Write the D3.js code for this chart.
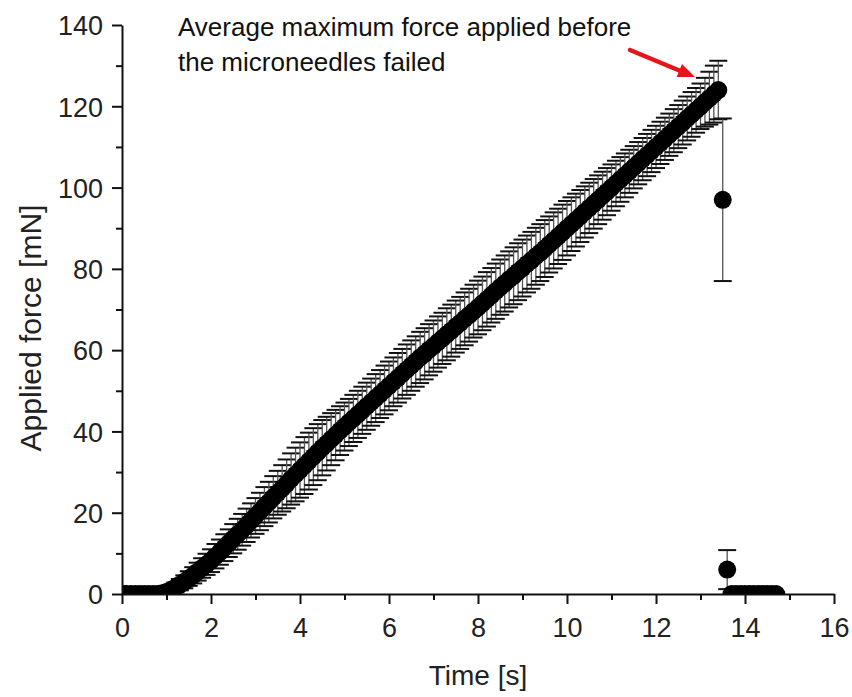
<!DOCTYPE html>
<html><head><meta charset="utf-8">
<script src="https://cdn.jsdelivr.net/npm/d3@7"></script>
<style>body{margin:0;background:#fff}</style></head>
<body>
<svg id="c" width="852" height="697"></svg>
<script>
// ---- data ----
const times = [0.0,0.1,0.2,0.3,0.4,0.5,0.6,0.7,0.8,0.9,
 1.0,1.1,1.2,1.3,1.4,1.5,1.6,1.7,1.8,1.9,
 2.0,2.1,2.2,2.3,2.4,2.5,2.6,2.7,2.8,2.9,
 3.0,3.1,3.2,3.3,3.4,3.5,3.6,3.7,3.8,3.9,
 4.0,4.1,4.2,4.3,4.4,4.5,4.6,4.7,4.8,4.9,
 5.0,5.1,5.2,5.3,5.4,5.5,5.6,5.7,5.8,5.9,
 6.0,6.1,6.2,6.3,6.4,6.5,6.6,6.7,6.8,6.9,
 7.0,7.1,7.2,7.3,7.4,7.5,7.6,7.7,7.8,7.9,
 8.0,8.1,8.2,8.3,8.4,8.5,8.6,8.7,8.8,8.9,
 9.0,9.1,9.2,9.3,9.4,9.5,9.6,9.7,9.8,9.9,
 10.0,10.1,10.2,10.3,10.4,10.5,10.6,10.7,10.8,10.9,
 11.0,11.1,11.2,11.3,11.4,11.5,11.6,11.7,11.8,11.9,
 12.0,12.1,12.2,12.3,12.4,12.5,12.6,12.7,12.8,12.9,
 13.0,13.1,13.2,13.3,13.4,
 13.5,13.6,13.7,13.8,13.9,14.0,14.1,14.2,14.3,14.4,14.5,14.6,14.7];
const force = [0,0,0,0,0,0,0,0,0,0.2,
 0.5,1.0,1.6,2.3,3.0,3.8,4.6,5.5,6.4,7.3,
 8.2,9.3,10.3,11.4,12.5,13.6,14.7,15.8,16.9,18.1,
 19.2,20.3,21.5,22.6,23.8,24.9,26.0,27.1,28.3,29.4,
 30.5,31.6,32.7,33.8,34.9,36.0,37.0,38.1,39.1,40.2,
 41.2,42.2,43.2,44.2,45.2,46.2,47.2,48.2,49.2,50.2,
 51.2,52.2,53.2,54.2,55.2,56.2,57.2,58.2,59.1,60.1,
 61.0,62.0,62.9,63.9,64.8,65.8,66.7,67.7,68.6,69.6,
 70.5,71.5,72.5,73.5,74.5,75.5,76.4,77.4,78.3,79.3,
 80.2,81.2,82.1,83.1,84.0,85.0,86.0,87.0,88.0,89.0,
 90.0,91.0,92.0,93.0,94.0,95.0,96.0,97.0,98.0,99.0,
 100.0,101.0,102.0,103.0,104.0,105.0,106.0,107.0,108.0,109.0,
 110.0,111.0,112.0,113.0,114.0,115.0,116.0,117.0,118.0,119.0,
 120.0,121.0,122.0,123.0,124.0,
 97,6,0,0,0,0,0,0,0,0,0,0,0];
const sd = [0.4,0.4,0.4,0.4,0.4,0.4,0.4,0.4,0.4,0.5,
 0.8,1.0,1.2,1.4,1.6,1.8,2.0,2.2,2.4,2.6,
 2.8,3.0,3.1,3.3,3.4,3.6,3.8,3.9,4.1,4.2,
 4.4,4.6,4.8,5.0,5.2,5.4,5.7,6.0,6.3,6.6,
 6.8,7.0,7.0,7.0,6.9,6.8,6.6,6.4,6.2,6.0,
 5.9,5.8,5.8,5.8,5.8,5.8,5.8,5.9,5.9,6.0,
 6.0,6.0,6.1,6.1,6.2,6.2,6.2,6.3,6.3,6.3,
 6.3,6.3,6.3,6.4,6.4,6.4,6.4,6.5,6.5,6.5,
 6.6,6.6,6.7,6.7,6.8,6.8,6.9,6.9,7.0,7.0,
 7.0,7.0,7.0,7.0,7.0,7.0,6.9,6.9,6.8,6.8,
 6.7,6.6,6.5,6.4,6.3,6.2,6.1,6.0,5.9,5.8,
 5.7,5.6,5.5,5.4,5.3,5.2,5.2,5.2,5.2,5.2,
 5.2,5.2,5.2,5.2,5.3,5.3,5.4,5.4,5.5,5.5,
 5.6,6.0,6.5,7.0,7.2,
 20,4.8,0.4,0.4,0.4,0.4,0.4,0.4,0.4,0.4,0.4,0.4,0.4];
const xMajor = [0,2,4,6,8,10,12,14,16];
const xMinor = [1,3,5,7,9,11,13,15];
const yMajor = [0,20,40,60,80,100,120,140];
const yMinor = [10,30,50,70,90,110,130];
const xTitle = "Time [s]";
const yTitle = "Applied force [mN]";
const note = ["Average maximum force applied before", "the microneedles failed"];

// ---- drawing ----
const FONT = "'Liberation Sans', Arial, Helvetica, sans-serif";
const svg = d3.select("#c");
const x = d3.scaleLinear().domain([0,16]).range([122,834]);
const y = d3.scaleLinear().domain([0,140]).range([594,25]);

svg.append("defs").append("clipPath").attr("id","clip")
  .append("rect").attr("x",122).attr("y",20).attr("width",712).attr("height",574);

const pts = times.map((t,i)=>({t, v:force[i], s:sd[i]}));
const g = svg.append("g").attr("clip-path","url(#clip)");
const cap = 9;
const eb = g.append("g");
pts.forEach(p=>{
  const x0 = x(p.t), yt = y(p.v+p.s), yb = y(p.v-p.s);
  eb.append("line").attr("x1",x0).attr("x2",x0).attr("y1",yt).attr("y2",yb)
    .attr("stroke","#555").attr("stroke-width",1.3);
  eb.append("line").attr("x1",x0-cap).attr("x2",x0+cap).attr("y1",yt).attr("y2",yt)
    .attr("stroke","#111").attr("stroke-width",2);
  eb.append("line").attr("x1",x0-cap).attr("x2",x0+cap).attr("y1",yb).attr("y2",yb)
    .attr("stroke","#111").attr("stroke-width",2);
});
g.append("g").selectAll("circle").data(pts).join("circle")
  .attr("cx",d=>x(d.t)).attr("cy",d=>y(d.v)).attr("r",9).attr("fill","#000");

// axes
function styleAxis(sel){
  sel.select(".domain").attr("stroke","#111").attr("stroke-width",2);
  sel.selectAll(".tick line").attr("stroke","#111").attr("stroke-width",2);
  sel.selectAll("text").attr("fill","#222").style("font-family",FONT).style("font-size","27px");
}
const xMinAx = svg.append("g").attr("transform","translate(0,594)")
  .call(d3.axisBottom(x).tickValues(xMinor).tickSize(6).tickFormat(""));
xMinAx.select(".domain").remove();
xMinAx.selectAll(".tick line").attr("stroke","#111").attr("stroke-width",2);
const xAx = svg.append("g").attr("transform","translate(0,594)")
  .call(d3.axisBottom(x).tickValues(xMajor).tickSize(10).tickSizeOuter(0).tickFormat(d3.format("d")));
styleAxis(xAx);
xAx.selectAll("text").attr("dy",null).attr("y",43);

const yMinAx = svg.append("g").attr("transform","translate(122,0)")
  .call(d3.axisLeft(y).tickValues(yMinor).tickSize(6).tickFormat(""));
yMinAx.select(".domain").remove();
yMinAx.selectAll(".tick line").attr("stroke","#111").attr("stroke-width",2);
const yAx = svg.append("g").attr("transform","translate(122,0)")
  .call(d3.axisLeft(y).tickValues(yMajor).tickSize(10).tickSizeOuter(0).tickFormat(d3.format("d")));
styleAxis(yAx);
yAx.selectAll("text").attr("x",-19).attr("dy","0.36em");

// titles
svg.append("text").attr("x",478).attr("y",685).attr("text-anchor","middle")
  .style("font-family",FONT).style("font-size","28px").attr("fill","#222").text(xTitle);
svg.append("text").attr("transform","translate(41,328) rotate(-90)").attr("text-anchor","middle")
  .style("font-family",FONT).style("font-size","30px").attr("fill","#222").text(yTitle);

// annotation
svg.append("text").attr("x",178).attr("y",36).style("font-family",FONT).style("font-size","26px")
  .attr("fill","#111").text(note[0]);
svg.append("text").attr("x",178).attr("y",71).style("font-family",FONT).style("font-size","26px")
  .attr("fill","#111").text(note[1]);

// red arrow
const ax0=630, ay0=50, ax1=695, ay1=77;
const ang = Math.atan2(ay1-ay0, ax1-ax0), hl=17, hw=7;
const bx = ax1 - hl*Math.cos(ang), by = ay1 - hl*Math.sin(ang);
svg.append("line").attr("x1",ax0).attr("y1",ay0).attr("x2",bx).attr("y2",by)
  .attr("stroke","#e8141c").attr("stroke-width",4.5).attr("stroke-linecap","round");
svg.append("path").attr("fill","#e8141c").attr("d",
  `M${ax1},${ay1} L${bx+hw*Math.sin(ang)},${by-hw*Math.cos(ang)} L${bx-hw*Math.sin(ang)},${by+hw*Math.cos(ang)} Z`);
</script>
</body></html>
